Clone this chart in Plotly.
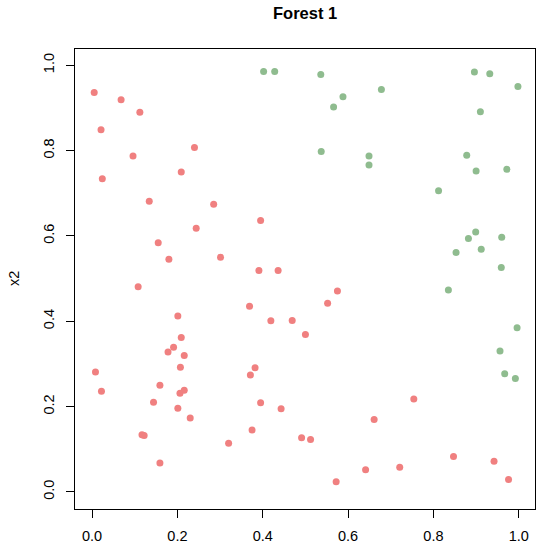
import plotly.graph_objects as go

# Class 1 (red) points
red_x1 = [0.005, 0.068, 0.112, 0.021, 0.240, 0.096, 0.209, 0.024, 0.134, 0.285,
          0.395, 0.244, 0.155, 0.180, 0.301, 0.391, 0.436, 0.108, 0.369, 0.201,
          0.419, 0.469, 0.500, 0.209, 0.191, 0.178, 0.216, 0.207, 0.382, 0.008,
          0.371, 0.159, 0.022, 0.216, 0.206, 0.144, 0.395, 0.201, 0.443, 0.230,
          0.375, 0.117, 0.122, 0.491, 0.512, 0.320, 0.159, 0.575, 0.552, 0.754,
          0.661, 0.847, 0.942, 0.641, 0.721, 0.572, 0.976]
red_x2 = [0.936, 0.919, 0.890, 0.849, 0.807, 0.787, 0.750, 0.734, 0.681, 0.674,
          0.636, 0.618, 0.584, 0.545, 0.550, 0.519, 0.519, 0.481, 0.435, 0.412,
          0.401, 0.402, 0.369, 0.362, 0.339, 0.328, 0.320, 0.292, 0.291, 0.281,
          0.274, 0.250, 0.236, 0.238, 0.231, 0.210, 0.209, 0.196, 0.195, 0.173,
          0.145, 0.134, 0.132, 0.127, 0.123, 0.114, 0.068, 0.471, 0.442, 0.218,
          0.170, 0.083, 0.072, 0.052, 0.058, 0.024, 0.029]

# Class 2 (green) points
green_x1 = [0.402, 0.428, 0.536, 0.896, 0.932, 0.998, 0.588, 0.678, 0.566, 0.910,
            0.537, 0.649, 0.649, 0.878, 0.900, 0.972, 0.812, 0.899, 0.882, 0.960,
            0.912, 0.853, 0.959, 0.835, 0.996, 0.956, 0.967, 0.992]
green_x2 = [0.985, 0.985, 0.978, 0.984, 0.980, 0.950, 0.926, 0.943, 0.902, 0.891,
            0.798, 0.787, 0.766, 0.789, 0.752, 0.756, 0.706, 0.609, 0.594, 0.597,
            0.569, 0.561, 0.526, 0.473, 0.385, 0.330, 0.277, 0.266]

tick_vals = [0.0, 0.2, 0.4, 0.6, 0.8, 1.0]
tick_text = ["0.0", "0.2", "0.4", "0.6", "0.8", "1.0"]

FONT = "Liberation Sans, Arial, Helvetica, sans-serif"

fig = go.Figure()
fig.add_trace(go.Scatter(x=red_x1, y=red_x2, mode="markers",
                         marker=dict(color="#F08080", size=7, line=dict(width=0)),
                         showlegend=False))
fig.add_trace(go.Scatter(x=green_x1, y=green_x2, mode="markers",
                         marker=dict(color="#8FBC8F", size=7, line=dict(width=0)),
                         showlegend=False))

axis_common = dict(
    range=[-0.04, 1.038], showgrid=False, zeroline=False, automargin=False,
    showline=True, mirror=True, linecolor="black", linewidth=1,
    ticks="outside", ticklen=8, tickcolor="black", tickwidth=1,
    tickvals=tick_vals, ticktext=tick_text,
    tickfont=dict(family=FONT, size=14.5, color="black"),
)
fig.update_xaxes(**axis_common, ticklabelstandoff=6)
fig.update_yaxes(**axis_common, tickangle=-90, ticklabelstandoff=6)

fig.update_layout(
    width=536, height=543,
    margin=dict(l=75, r=1, t=49, b=34),
    plot_bgcolor="white", paper_bgcolor="white",
    font=dict(family=FONT, color="black"),
    annotations=[
        dict(text="<b>Forest 1</b>", xref="paper", yref="paper", x=0.5, y=1,
             yshift=36, showarrow=False, font=dict(family=FONT, size=16.5),
             xanchor="center", yanchor="middle"),
        dict(text="x2", xref="paper", yref="paper", x=0, y=0.5, xshift=-61,
             showarrow=False, textangle=-90, font=dict(family=FONT, size=14.5),
             xanchor="center", yanchor="middle"),
    ],
)

fig.write_html("out.html",
               config={"displayModeBar": False},
               post_script="document.body.style.margin='0';document.body.style.overflow='hidden';")
